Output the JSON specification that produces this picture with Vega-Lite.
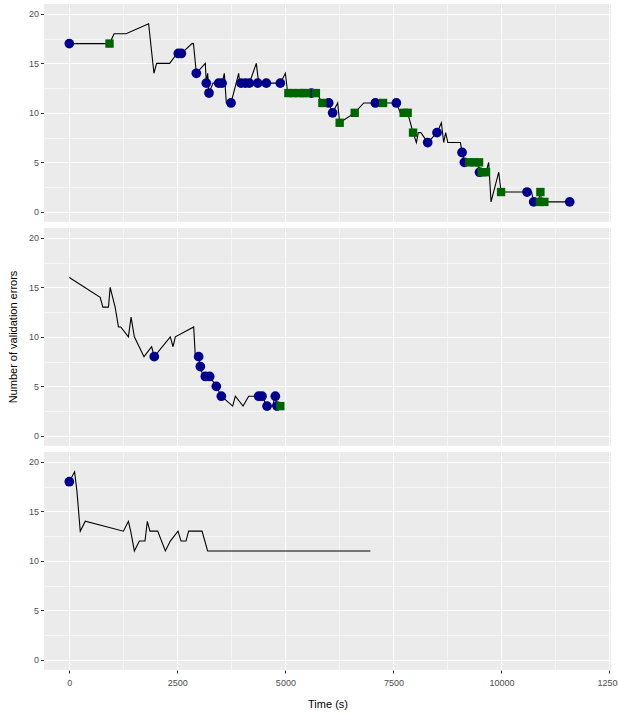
{
  "$schema": "https://vega.github.io/schema/vega-lite/v6.json",
  "padding": {"left": 7, "top": 4, "right": 4, "bottom": 5},
  "datasets": {
    "rows": [
      {"panel":"A","kind":"line","t":0,"y":17},
      {"panel":"A","kind":"line","t":930,"y":17},
      {"panel":"A","kind":"line","t":1037,"y":18},
      {"panel":"A","kind":"line","t":1313,"y":18},
      {"panel":"A","kind":"line","t":1835,"y":19},
      {"panel":"A","kind":"line","t":1958,"y":14},
      {"panel":"A","kind":"line","t":2020,"y":15},
      {"panel":"A","kind":"line","t":2322,"y":15},
      {"panel":"A","kind":"line","t":2491,"y":16},
      {"panel":"A","kind":"line","t":2592,"y":16},
      {"panel":"A","kind":"line","t":2839,"y":17},
      {"panel":"A","kind":"line","t":2873,"y":17},
      {"panel":"A","kind":"line","t":2939,"y":14},
      {"panel":"A","kind":"line","t":3147,"y":15},
      {"panel":"A","kind":"line","t":3170,"y":13},
      {"panel":"A","kind":"line","t":3201,"y":14},
      {"panel":"A","kind":"line","t":3232,"y":12},
      {"panel":"A","kind":"line","t":3325,"y":13},
      {"panel":"A","kind":"line","t":3534,"y":13},
      {"panel":"A","kind":"line","t":3587,"y":14},
      {"panel":"A","kind":"line","t":3633,"y":11},
      {"panel":"A","kind":"line","t":3742,"y":11},
      {"panel":"A","kind":"line","t":3919,"y":14},
      {"panel":"A","kind":"line","t":3942,"y":13},
      {"panel":"A","kind":"line","t":4166,"y":13},
      {"panel":"A","kind":"line","t":4327,"y":15},
      {"panel":"A","kind":"line","t":4382,"y":13},
      {"panel":"A","kind":"line","t":4883,"y":13},
      {"panel":"A","kind":"line","t":4999,"y":14},
      {"panel":"A","kind":"line","t":5053,"y":12},
      {"panel":"A","kind":"line","t":5726,"y":12},
      {"panel":"A","kind":"line","t":5856,"y":11},
      {"panel":"A","kind":"line","t":6002,"y":11},
      {"panel":"A","kind":"line","t":6093,"y":10},
      {"panel":"A","kind":"line","t":6210,"y":11},
      {"panel":"A","kind":"line","t":6256,"y":9},
      {"panel":"A","kind":"line","t":6604,"y":10},
      {"panel":"A","kind":"line","t":6812,"y":11},
      {"panel":"A","kind":"line","t":7568,"y":11},
      {"panel":"A","kind":"line","t":7660,"y":10},
      {"panel":"A","kind":"line","t":7830,"y":10},
      {"panel":"A","kind":"line","t":7954,"y":8},
      {"panel":"A","kind":"line","t":8031,"y":7},
      {"panel":"A","kind":"line","t":8076,"y":8},
      {"panel":"A","kind":"line","t":8136,"y":8},
      {"panel":"A","kind":"line","t":8293,"y":7},
      {"panel":"A","kind":"line","t":8509,"y":8},
      {"panel":"A","kind":"line","t":8610,"y":9},
      {"panel":"A","kind":"line","t":8663,"y":7},
      {"panel":"A","kind":"line","t":8709,"y":8},
      {"panel":"A","kind":"line","t":8759,"y":7},
      {"panel":"A","kind":"line","t":9050,"y":7},
      {"panel":"A","kind":"line","t":9088,"y":6},
      {"panel":"A","kind":"line","t":9142,"y":5},
      {"panel":"A","kind":"line","t":9462,"y":5},
      {"panel":"A","kind":"line","t":9493,"y":4},
      {"panel":"A","kind":"line","t":9643,"y":4},
      {"panel":"A","kind":"line","t":9704,"y":5},
      {"panel":"A","kind":"line","t":9759,"y":1},
      {"panel":"A","kind":"line","t":9937,"y":4},
      {"panel":"A","kind":"line","t":9991,"y":2},
      {"panel":"A","kind":"line","t":10592,"y":2},
      {"panel":"A","kind":"line","t":10698,"y":2},
      {"panel":"A","kind":"line","t":10746,"y":1},
      {"panel":"A","kind":"line","t":10849,"y":1},
      {"panel":"A","kind":"line","t":10901,"y":2},
      {"panel":"A","kind":"line","t":10929,"y":1},
      {"panel":"A","kind":"line","t":11579,"y":1},

      {"panel":"A","kind":"circle","t":0,"y":17},
      {"panel":"A","kind":"square","t":930,"y":17},
      {"panel":"A","kind":"circle","t":2522,"y":16},
      {"panel":"A","kind":"circle","t":2592,"y":16},
      {"panel":"A","kind":"circle","t":2939,"y":14},
      {"panel":"A","kind":"circle","t":3170,"y":13},
      {"panel":"A","kind":"circle","t":3232,"y":12},
      {"panel":"A","kind":"circle","t":3456,"y":13},
      {"panel":"A","kind":"circle","t":3534,"y":13},
      {"panel":"A","kind":"circle","t":3742,"y":11},
      {"panel":"A","kind":"circle","t":3973,"y":13},
      {"panel":"A","kind":"circle","t":4073,"y":13},
      {"panel":"A","kind":"circle","t":4166,"y":13},
      {"panel":"A","kind":"circle","t":4359,"y":13},
      {"panel":"A","kind":"circle","t":4559,"y":13},
      {"panel":"A","kind":"circle","t":4883,"y":13},
      {"panel":"A","kind":"square","t":5069,"y":12},
      {"panel":"A","kind":"square","t":5184,"y":12},
      {"panel":"A","kind":"square","t":5300,"y":12},
      {"panel":"A","kind":"square","t":5416,"y":12},
      {"panel":"A","kind":"square","t":5486,"y":12},
      {"panel":"A","kind":"circle","t":5601,"y":12},
      {"panel":"A","kind":"square","t":5706,"y":12},
      {"panel":"A","kind":"square","t":5856,"y":11},
      {"panel":"A","kind":"circle","t":6002,"y":11},
      {"panel":"A","kind":"circle","t":6093,"y":10},
      {"panel":"A","kind":"square","t":6256,"y":9},
      {"panel":"A","kind":"square","t":6604,"y":10},
      {"panel":"A","kind":"circle","t":7082,"y":11},
      {"panel":"A","kind":"square","t":7260,"y":11},
      {"panel":"A","kind":"circle","t":7568,"y":11},
      {"panel":"A","kind":"square","t":7738,"y":10},
      {"panel":"A","kind":"square","t":7830,"y":10},
      {"panel":"A","kind":"square","t":7954,"y":8},
      {"panel":"A","kind":"circle","t":8293,"y":7},
      {"panel":"A","kind":"circle","t":8509,"y":8},
      {"panel":"A","kind":"circle","t":9088,"y":6},
      {"panel":"A","kind":"circle","t":9142,"y":5},
      {"panel":"A","kind":"square","t":9257,"y":5},
      {"panel":"A","kind":"square","t":9373,"y":5},
      {"panel":"A","kind":"square","t":9482,"y":5},
      {"panel":"A","kind":"circle","t":9493,"y":4},
      {"panel":"A","kind":"square","t":9543,"y":4},
      {"panel":"A","kind":"square","t":9643,"y":4},
      {"panel":"A","kind":"square","t":9991,"y":2},
      {"panel":"A","kind":"circle","t":10592,"y":2},
      {"panel":"A","kind":"circle","t":10746,"y":1},
      {"panel":"A","kind":"square","t":10901,"y":2},
      {"panel":"A","kind":"square","t":10885,"y":1},
      {"panel":"A","kind":"square","t":10993,"y":1},
      {"panel":"A","kind":"circle","t":11579,"y":1},

      {"panel":"B","kind":"line","t":0,"y":16},
      {"panel":"B","kind":"line","t":714,"y":14},
      {"panel":"B","kind":"line","t":776,"y":13},
      {"panel":"B","kind":"line","t":906,"y":13},
      {"panel":"B","kind":"line","t":945,"y":15},
      {"panel":"B","kind":"line","t":1060,"y":13},
      {"panel":"B","kind":"line","t":1137,"y":11},
      {"panel":"B","kind":"line","t":1190,"y":11},
      {"panel":"B","kind":"line","t":1367,"y":10},
      {"panel":"B","kind":"line","t":1429,"y":12},
      {"panel":"B","kind":"line","t":1505,"y":10},
      {"panel":"B","kind":"line","t":1728,"y":8},
      {"panel":"B","kind":"line","t":1905,"y":9},
      {"panel":"B","kind":"line","t":1966,"y":8},
      {"panel":"B","kind":"line","t":2337,"y":10},
      {"panel":"B","kind":"line","t":2400,"y":9},
      {"panel":"B","kind":"line","t":2453,"y":10},
      {"panel":"B","kind":"line","t":2878,"y":11},
      {"panel":"B","kind":"line","t":2916,"y":8},
      {"panel":"B","kind":"line","t":2993,"y":8},
      {"panel":"B","kind":"line","t":3032,"y":7},
      {"panel":"B","kind":"line","t":3094,"y":6},
      {"panel":"B","kind":"line","t":3248,"y":6},
      {"panel":"B","kind":"line","t":3402,"y":5},
      {"panel":"B","kind":"line","t":3518,"y":4},
      {"panel":"B","kind":"line","t":3780,"y":3},
      {"panel":"B","kind":"line","t":3842,"y":4},
      {"panel":"B","kind":"line","t":4020,"y":3},
      {"panel":"B","kind":"line","t":4151,"y":4},
      {"panel":"B","kind":"line","t":4459,"y":4},
      {"panel":"B","kind":"line","t":4575,"y":3},
      {"panel":"B","kind":"line","t":4701,"y":3},
      {"panel":"B","kind":"line","t":4767,"y":4},
      {"panel":"B","kind":"line","t":4807,"y":3},
      {"panel":"B","kind":"line","t":4883,"y":3},

      {"panel":"B","kind":"circle","t":1966,"y":8},
      {"panel":"B","kind":"circle","t":2993,"y":8},
      {"panel":"B","kind":"circle","t":3032,"y":7},
      {"panel":"B","kind":"circle","t":3147,"y":6},
      {"panel":"B","kind":"circle","t":3248,"y":6},
      {"panel":"B","kind":"circle","t":3402,"y":5},
      {"panel":"B","kind":"circle","t":3518,"y":4},
      {"panel":"B","kind":"circle","t":4382,"y":4},
      {"panel":"B","kind":"circle","t":4459,"y":4},
      {"panel":"B","kind":"circle","t":4575,"y":3},
      {"panel":"B","kind":"circle","t":4767,"y":4},
      {"panel":"B","kind":"circle","t":4807,"y":3},
      {"panel":"B","kind":"square","t":4883,"y":3},

      {"panel":"C","kind":"line","t":0,"y":18},
      {"panel":"C","kind":"line","t":122,"y":19},
      {"panel":"C","kind":"line","t":177,"y":17},
      {"panel":"C","kind":"line","t":253,"y":13},
      {"panel":"C","kind":"line","t":369,"y":14},
      {"panel":"C","kind":"line","t":1252,"y":13},
      {"panel":"C","kind":"line","t":1367,"y":14},
      {"panel":"C","kind":"line","t":1420,"y":13},
      {"panel":"C","kind":"line","t":1505,"y":11},
      {"panel":"C","kind":"line","t":1621,"y":12},
      {"panel":"C","kind":"line","t":1751,"y":12},
      {"panel":"C","kind":"line","t":1805,"y":14},
      {"panel":"C","kind":"line","t":1866,"y":13},
      {"panel":"C","kind":"line","t":2045,"y":13},
      {"panel":"C","kind":"line","t":2222,"y":11},
      {"panel":"C","kind":"line","t":2337,"y":12},
      {"panel":"C","kind":"line","t":2515,"y":13},
      {"panel":"C","kind":"line","t":2585,"y":12},
      {"panel":"C","kind":"line","t":2700,"y":12},
      {"panel":"C","kind":"line","t":2761,"y":13},
      {"panel":"C","kind":"line","t":3071,"y":13},
      {"panel":"C","kind":"line","t":3201,"y":11},
      {"panel":"C","kind":"line","t":6966,"y":11},

      {"panel":"C","kind":"circle","t":0,"y":18}
    ]
  },
  "data": {"name": "rows"},
  "facet": {
    "row": {
      "field": "panel", "type": "nominal", "sort": ["A", "B", "C"],
      "title": "Number of validation errors",
      "header": {"labels": false, "titleFontSize": 11, "titleFontWeight": "normal", "titleColor": "#000000", "titlePadding": -1, "labelPadding": 0}
    }
  },
  "spacing": 6,
  "spec": {
    "width": 567,
    "height": 217.7,
    "encoding": {
      "x": {
        "field": "t", "type": "quantitative", "title": "Time (s)",
        "scale": {"domain": [-586, 12535], "nice": false, "zero": false},
        "axis": {
          "values": [0, 1250, 2500, 3750, 5000, 6250, 7500, 8750, 10000, 11250, 12500],
          "format": "d",
          "labelExpr": "datum.value % 2500 === 0 ? datum.label : ''",
          "gridWidth": {"condition": {"test": "datum.value % 2500 === 0", "value": 1.1}, "value": 0.55},
          "tickOpacity": {"condition": {"test": "datum.value % 2500 === 0", "value": 1}, "value": 0},
          "labelPadding": 5,
          "titlePadding": 11
        }
      },
      "y": {
        "field": "y", "type": "quantitative", "title": null,
        "scale": {"domain": [-1, 21], "nice": false, "zero": false},
        "axis": {
          "values": [0, 2.5, 5, 7.5, 10, 12.5, 15, 17.5, 20],
          "labelExpr": "datum.value % 5 === 0 ? datum.label : ''",
          "gridWidth": {"condition": {"test": "datum.value % 5 === 0", "value": 1.1}, "value": 0.55},
          "tickOpacity": {"condition": {"test": "datum.value % 5 === 0", "value": 1}, "value": 0},
          "tickSize": 3.5,
          "labelPadding": 2
        }
      }
    },
    "layer": [
      {
        "transform": [{"filter": "datum.kind === 'line'"}],
        "mark": {"type": "line", "color": "black", "strokeWidth": 1.1, "clip": true}
      },
      {
        "transform": [{"filter": "datum.kind === 'circle'"}],
        "mark": {"type": "point", "shape": "circle", "filled": true, "color": "#00008B", "opacity": 1, "size": 95, "strokeWidth": 0}
      },
      {
        "transform": [{"filter": "datum.kind === 'square'"}],
        "mark": {"type": "point", "shape": "square", "filled": true, "color": "#006400", "opacity": 1, "size": 70, "strokeWidth": 0}
      }
    ]
  },
  "config": {
    "font": "Liberation Sans",
    "view": {"fill": "#EBEBEB", "stroke": null},
    "axis": {
      "domain": false,
      "gridColor": "#FFFFFF",
      "gridOpacity": 1,
      "tickColor": "#333333",
      "tickSize": 3,
      "tickWidth": 1,
      "labelColor": "#4D4D4D",
      "labelFontSize": 9,
      "labelOverlap": false,
      "titleFontSize": 11,
      "titleFontWeight": "normal",
      "titleColor": "#000000"
    }
  }
}
